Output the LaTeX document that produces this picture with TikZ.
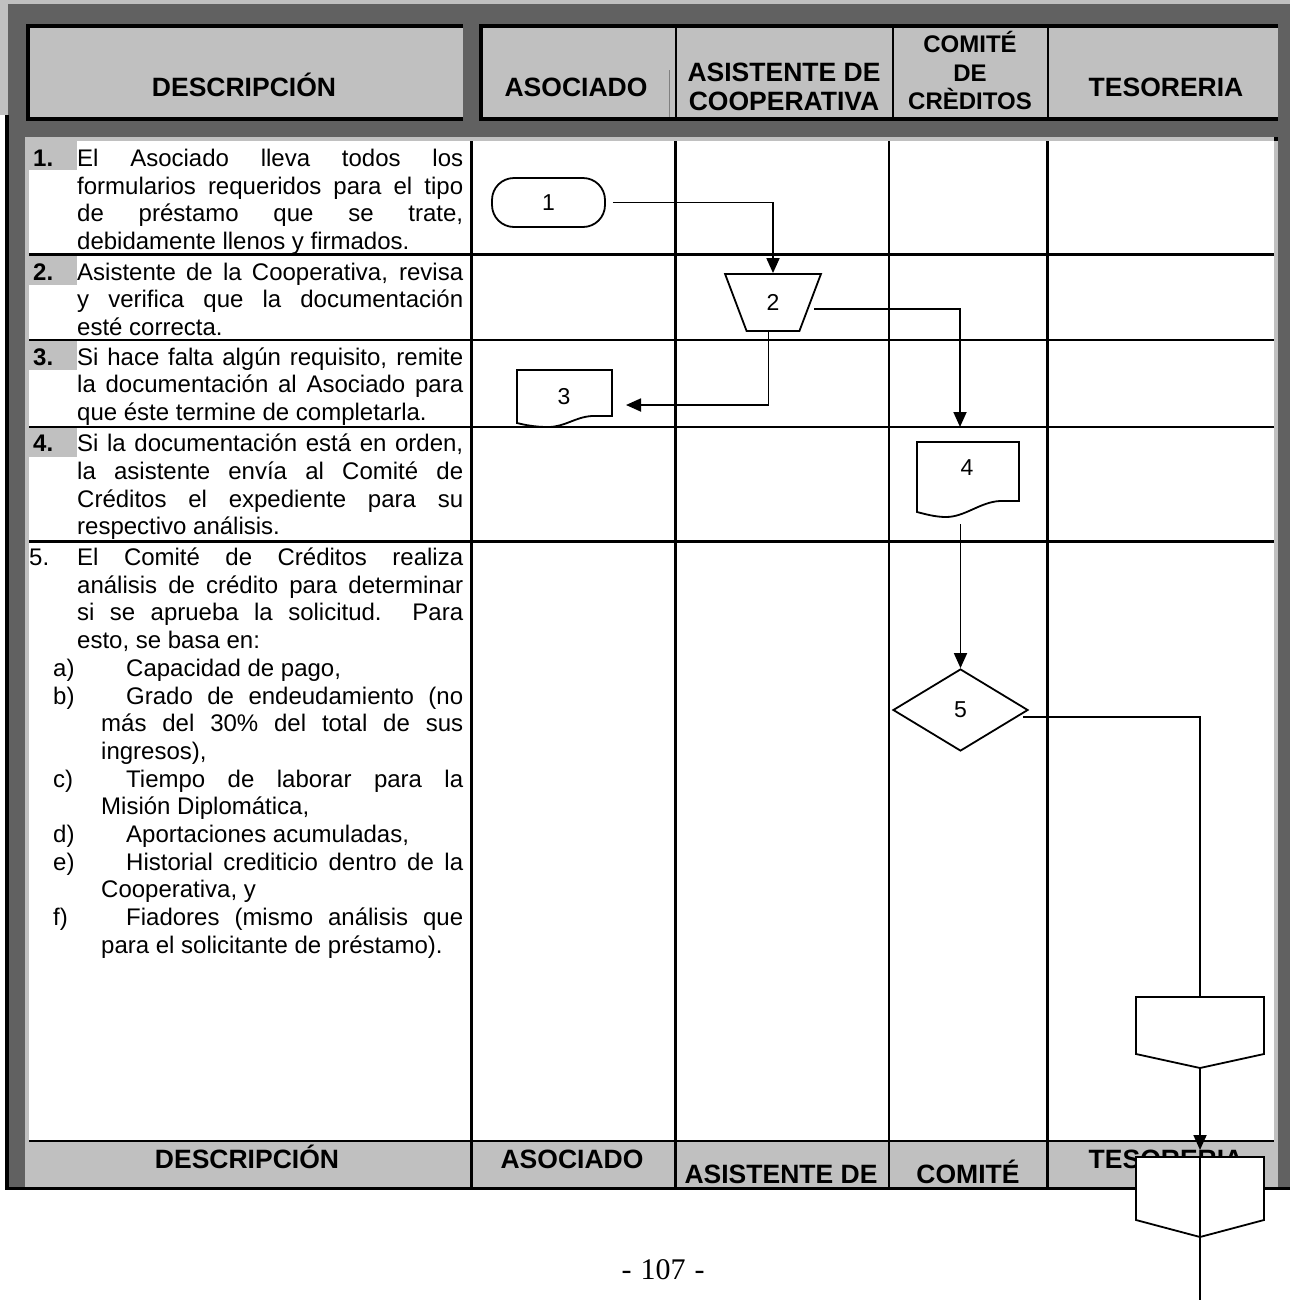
\documentclass[tikz,border=0pt]{standalone}
\usepackage{fontspec}
\setmainfont{Liberation Sans}
\newfontfamily\pagefont{Liberation Serif}
\usetikzlibrary{shapes.geometric,arrows.meta}
\definecolor{dgray}{HTML}{616161}
\definecolor{lgray}{HTML}{C0C0C0}
\begin{document}
\begin{tikzpicture}[x=1pt,y=-1pt,
  hdr/.style={font=\fontsize{26.5}{29}\selectfont\bfseries, anchor=base, inner sep=0},
  hdrs/.style={font=\fontsize{24}{29}\selectfont\bfseries, anchor=base, inner sep=0},
  body/.style={font=\fontsize{24}{27.7}\selectfont, anchor=base west, inner sep=0},
  num/.style={anchor=base west, inner sep=0, font=\fontsize{24}{27.7}\selectfont\bfseries},
  lane/.style={line width=2.2pt},
  frm/.style={line width=3.5pt},
  conn/.style={line width=1.8pt},
  arr/.style={conn, -{Triangle[length=15pt,width=13pt]}},
  shp/.style={draw, line width=1.8pt, fill=white, inner sep=0, font=\fontsize{23}{25}\selectfont},
  lbl/.style={inner sep=0, font=\fontsize{23}{25}\selectfont}]
\useasboundingbox (0,0) rectangle (1290,1304);
% background frame
\fill[white] (0,0) rectangle (1290,1304);
\fill[lgray] (0,0) rectangle (1290,115);
\fill[dgray] (8,4) rectangle (1290,1188);
\fill[black] (5,115) rectangle (9,1189.5);
\fill[black] (5,1186.5) rectangle (1290,1189.5);
\fill[lgray] (25,137) rectangle (1278,1186.5);
\fill[white] (29,141) rectangle (1274,1141);
\fill[black] (1274,137) rectangle (1278,141);
% top header
\fill[lgray] (27,25) rectangle (463,119);
\draw[frm] (463,25.75) -| (27.75,119) -- (463,119);
\fill[lgray] (480,25) rectangle (1278,119);
\draw[frm] (1278,25.75) -| (480.75,119) -- (1278,119);
\draw[lane] (676,27.5) -- (676,117.5);
\draw[lane] (893,27.5) -- (893,117.5);
\draw[lane] (1048,27.5) -- (1048,117.5);
\draw[gray, line width=1pt] (669,70) -- (669,117);
\node[hdr] (hD) at (244,96.5) {DESCRIPCIÓN};
\node[hdr] (hA) at (576,96.5) {ASOCIADO};
\node[hdr] (hS1) at (784,81.3) {ASISTENTE DE};
\node[hdr] (hS2) at (784,110.3) {COOPERATIVA};
\node[hdrs] (hC1) at (970,52.5) {COMITÉ};
\node[hdrs] (hC2) at (970,81) {DE};
\node[hdrs] (hC3) at (970,109.5) {CRÈDITOS};
\node[hdr] (hT) at (1166,96.5) {TESORERIA};
% number highlights
\fill[lgray] (29,141) rectangle (77,170);
\fill[lgray] (29,256) rectangle (77,285);
\fill[lgray] (29,341) rectangle (77,370);
\fill[lgray] (29,428) rectangle (77,457);
% lanes and rows
\foreach \x in {471.5,675.5,889,1047.5} \draw[lane] (\x,141) -- (\x,1187);
\foreach \y in {254.5,340,427,541.5} \draw[lane] (29,\y) -- (1274,\y);
\draw[lane] (29,1141) -- (1274,1141);
% bottom header texts
\node[hdr] (bD) at (247,1168) {DESCRIPCIÓN};
\node[hdr] (bA) at (572,1168) {ASOCIADO};
\node[hdr] (bS) at (781,1183) {ASISTENTE DE};
\node[hdr] (bC) at (968,1183) {COMITÉ};
\node[hdr] (bT) at (1166,1168) {TESORERIA};
% row 1
\node[num] (n1) at (33,166.5) {1.};
\node[body] (t1a) at (77,166.5) {\makebox[386pt][s]{El Asociado lleva todos los}};
\node[body] (t1b) at (77,194.2) {\makebox[386pt][s]{formularios requeridos para el tipo}};
\node[body] (t1c) at (77,221.9) {\makebox[386pt][s]{de préstamo que se trate,}};
\node[body] (t1d) at (77,249.6) {debidamente llenos y firmados.};
% row 2
\node[num] (n2) at (33,280) {2.};
\node[body] (t2a) at (77,280) {\makebox[386pt][s]{Asistente de la Cooperativa, revisa}};
\node[body] (t2b) at (77,307.7) {\makebox[386pt][s]{y verifica que la documentación}};
\node[body] (t2c) at (77,335.4) {esté correcta.};
% row 3
\node[num] (n3) at (33,365) {3.};
\node[body] (t3a) at (77,365) {\makebox[386pt][s]{Si hace falta algún requisito, remite}};
\node[body] (t3b) at (77,392.7) {\makebox[386pt][s]{la documentación al Asociado para}};
\node[body] (t3c) at (77,420.4) {que éste termine de completarla.};
% row 4
\node[num] (n4) at (33,451.7) {4.};
\node[body] (t4a) at (77,451.7) {\makebox[386pt][s]{Si la documentación está en orden,}};
\node[body] (t4b) at (77,479.4) {\makebox[386pt][s]{la asistente envía al Comité de}};
\node[body] (t4c) at (77,507.1) {\makebox[386pt][s]{Créditos el expediente para su}};
\node[body] (t4d) at (77,534.8) {respectivo análisis.};
% row 5
\node[body] (n5) at (29,565.5) {5.};
\node[body] (t5a) at (77,565.5) {\makebox[386pt][s]{El Comité de Créditos realiza}};
\node[body] (t5b) at (77,593.2) {\makebox[386pt][s]{análisis de crédito para determinar}};
\node[body] (t5c) at (77,620.9) {\makebox[386pt][s]{si se aprueba la solicitud.\ \ Para}};
\node[body] (t5d) at (77,648.6) {esto, se basa en:};
\node[body] (la) at (53,676.3) {a)};
\node[body] (t5e) at (126,676.3) {Capacidad de pago,};
\node[body] (lb) at (53,704) {b)};
\node[body] (t5f) at (126,704) {\makebox[337pt][s]{Grado de endeudamiento (no}};
\node[body] (t5g) at (101,731.7) {\makebox[362pt][s]{más del 30\% del total de sus}};
\node[body] (t5h) at (101,759.4) {ingresos),};
\node[body] (lc) at (53,787.1) {c)};
\node[body] (t5i) at (126,787.1) {\makebox[337pt][s]{Tiempo de laborar para la}};
\node[body] (t5j) at (101,814.8) {Misión Diplomática,};
\node[body] (ld) at (53,842.5) {d)};
\node[body] (t5k) at (126,842.5) {Aportaciones acumuladas,};
\node[body] (le) at (53,870.2) {e)};
\node[body] (t5l) at (126,870.2) {\makebox[337pt][s]{Historial crediticio dentro de la}};
\node[body] (t5m) at (101,897.9) {Cooperativa, y};
\node[body] (lf) at (53,925.6) {f)};
\node[body] (t5n) at (126,925.6) {\makebox[337pt][s]{Fiadores (mismo análisis que}};
\node[body] (t5o) at (101,953.3) {para el solicitante de préstamo).};
% shapes
\node[shp, rounded corners=22pt, minimum width=113pt, minimum height=49pt] (s1) at (548.5,202.5) {1};
\node[shp, trapezium, shape border rotate=180, trapezium left angle=72, trapezium right angle=72,
      trapezium stretches=true, minimum width=96pt, minimum height=57pt] (s2) at (773,302.5) {2};
\draw[shp] (517,370) -- (612,370) -- (612,416) -- (592,416)
  .. controls (575,417) and (565,427) .. (548,427)
  .. controls (535,427) and (525,425) .. (517,423) -- cycle;
\node[lbl] (s3) at (564,397) {3};
\draw[shp] (917,442) -- (1019,442) -- (1019,501) -- (1000,501)
  .. controls (980,502) and (965,517) .. (946,517)
  .. controls (935,517) and (925,514) .. (917,512) -- cycle;
\node[lbl] (s4) at (967,468) {4};
\node[shp, diamond, aspect=1.646, minimum width=135pt, minimum height=82pt] (s5) at (960.5,710) {5};
\draw[shp] (1136,997) -- (1264,997) -- (1264,1054) -- (1200,1068) -- (1136,1054) -- cycle;
\node[inner sep=0, minimum width=128pt, minimum height=57pt] (s6) at (1200,1025.5) {};
\coordinate (s6p) at (1200,1068);
% connectors
\coordinate (c2e) at (960,427);
\coordinate (c3e) at (626,405);
\coordinate (c4s) at (960.5,524);
\coordinate (c5s) at (1023,717);
\coordinate (c6e) at (1200,1150);
\coordinate (c7e) at (1200,1300);
\draw[arr] ([xshift=7pt]s1.east) -| (s2.north);
\draw[arr] ([xshift=3pt,yshift=-6.5pt]s2.east) -| (c2e);
\draw[arr] ([xshift=-4.5pt]s2.south) |- (c3e);
\draw[arr] (c4s) -- (s5.north);
\draw[conn] (c5s) -| (s6.north);
\draw[arr] (s6p) -- (c6e);
\draw[shp] (1136,1157) -- (1264,1157) -- (1264,1220) -- (1200,1237) -- (1136,1220) -- cycle;
\node[inner sep=0, minimum width=128pt, minimum height=63pt] (s7) at (1200,1188.5) {};
\draw[conn] (s7.north) -- (c7e);
% page number
\node[anchor=base, inner sep=0, font=\pagefont\fontsize{30}{32}\selectfont] (pg) at (663,1279) {-\hspace{9pt}107\hspace{9pt}-};
\end{tikzpicture}
\end{document}
